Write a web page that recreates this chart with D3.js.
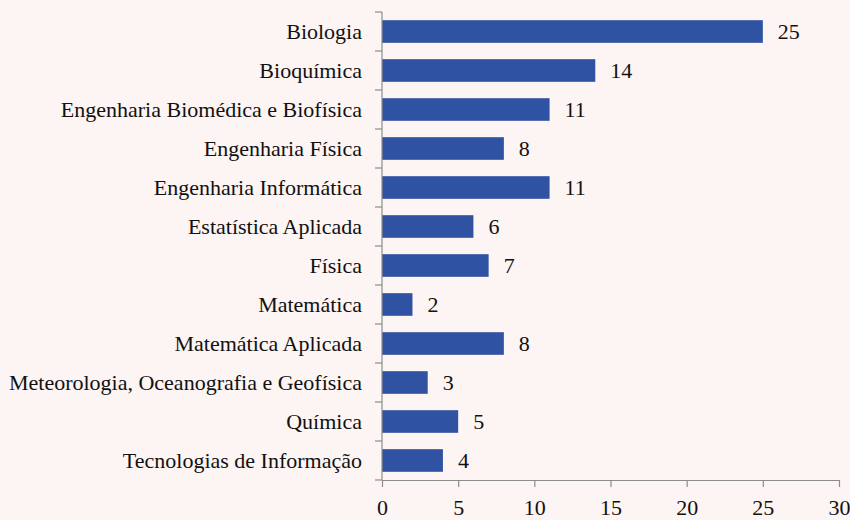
<!DOCTYPE html>
<html><head><meta charset="utf-8">
<script src="https://cdn.jsdelivr.net/npm/d3@7"></script>
<style>html,body{margin:0;padding:0;background:#fdf4f4;}</style>
</head><body>
<svg id="chart" width="850" height="520"></svg>
<script>
const categories = ["Biologia","Bioquímica","Engenharia Biomédica e Biofísica","Engenharia Física","Engenharia Informática","Estatística Aplicada","Física","Matemática","Matemática Aplicada","Meteorologia, Oceanografia e Geofísica","Química","Tecnologias de Informação"];
const values = [25,14,11,8,11,6,7,2,8,3,5,4];
const xTicks = [0,5,10,15,20,25,30];

const svg = d3.select("#chart");
svg.append("rect").attr("width",850).attr("height",520).attr("fill","#fdf4f4");
const m = {left:382, right:11, top:12, bottom:40};
const W = 850, H = 520;
const x = d3.scaleLinear().domain([0,30]).range([m.left, W - m.right]);
const y = d3.scaleBand().domain(categories).range([m.top, H - m.bottom]).paddingInner(0.42).paddingOuter(0.21);
const fs = "22px";
const ff = '"Liberation Serif"';
const axisColor = "#8c8c8c";

svg.selectAll("rect.bar").data(values).join("rect").attr("class","bar")
  .attr("x", x(0)).attr("y",(d,i)=>y(categories[i]))
  .attr("width", d=>x(d)-x(0)).attr("height", y.bandwidth())
  .attr("fill","#2f52a2");

svg.selectAll("text.val").data(values).join("text").attr("class","val")
  .attr("x", d=>x(d)+15).attr("y",(d,i)=>y(categories[i])+y.bandwidth()/2)
  .attr("dy","0.35em").style("font-family",ff).style("font-size",fs).attr("fill","#111")
  .text(d=>d);

// y axis
const step = y.step();
const yg = svg.append("g");
yg.append("line").attr("x1",x(0)).attr("x2",x(0)).attr("y1",m.top).attr("y2",H-m.bottom).attr("stroke",axisColor).attr("stroke-width",1.2);
d3.range(categories.length+1).forEach(i=>{
  const yy = m.top + i*step;
  yg.append("line").attr("x1",x(0)-7).attr("x2",x(0)).attr("y1",yy).attr("y2",yy).attr("stroke",axisColor).attr("stroke-width",1.2);
});
yg.selectAll("text").data(categories).join("text")
  .attr("x", x(0)-20).attr("y", d=>y(d)+y.bandwidth()/2).attr("dy","0.35em")
  .attr("text-anchor","end").style("font-family",ff).style("font-size",fs).attr("fill","#111")
  .text(d=>d);

// x axis
const xa = d3.axisBottom(x).tickValues(xTicks).tickSize(7).tickSizeOuter(0).tickPadding(12);
const xg = svg.append("g").attr("transform",`translate(0,${H-m.bottom})`).call(xa);
xg.select(".domain").attr("stroke",axisColor).attr("stroke-width",1.2);
xg.selectAll(".tick line").attr("stroke",axisColor).attr("stroke-width",1.2);
xg.selectAll(".tick text").style("font-family",ff).style("font-size",fs).attr("fill","#111");
</script>
</body></html>
